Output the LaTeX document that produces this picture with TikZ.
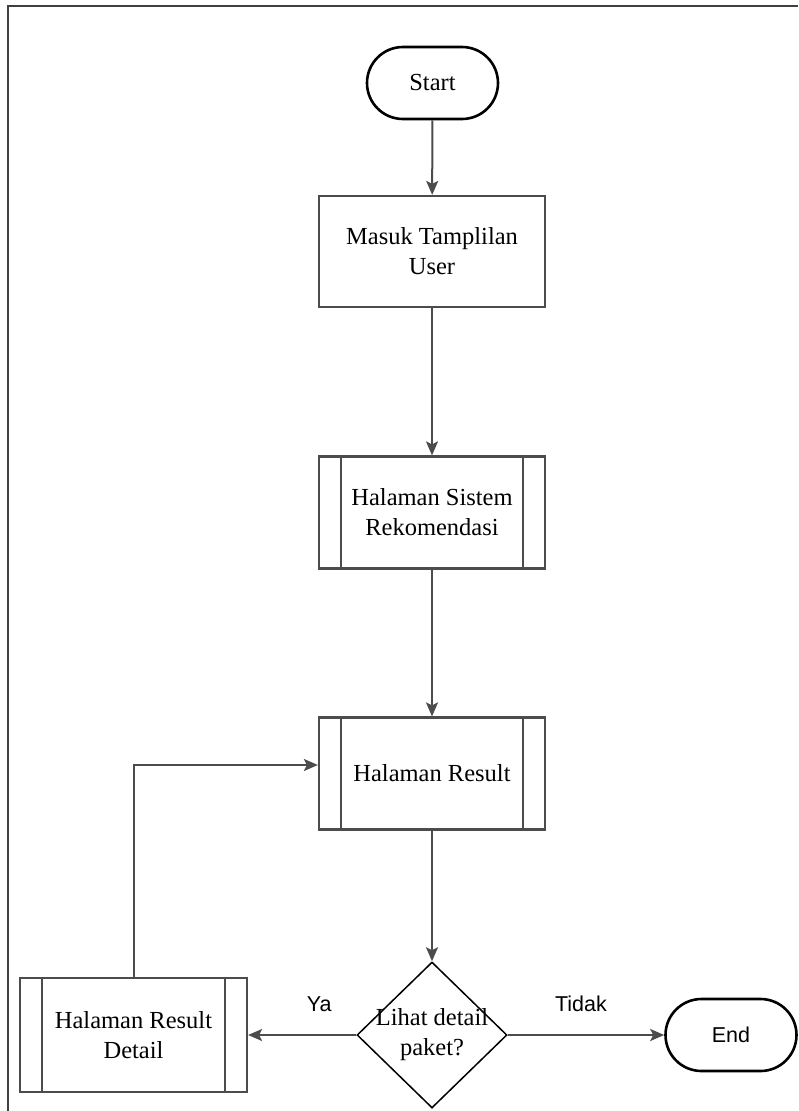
\documentclass[tikz,border=0pt]{standalone}
\usepackage{fontspec}
\setmainfont{Liberation Serif}
\setsansfont{Liberation Sans}
\usetikzlibrary{shapes.geometric,arrows.meta}
\tikzset{
  term/.style={draw=black, line width=2.6pt, rounded corners=36pt, minimum width=131pt, minimum height=72pt, inner sep=0pt},
  procbox/.style={draw=black!70, line width=2.2pt, minimum width=226pt, minimum height=111pt, align=center, inner sep=0pt, font=\fontsize{24.5}{30}\selectfont},
  subproc/.style={procbox, minimum height=112pt},
  decide/.style={draw=black, line width=1.5pt, diamond, aspect=1.0345, minimum width=150pt, minimum height=146pt, inner sep=-10pt, align=center, font=\fontsize{24.5}{30}\selectfont},
  flow/.style={draw=black!70, line width=2pt, -{Stealth[length=14pt,width=12pt,inset=3pt]}},
  lbl/.style={font=\sffamily\fontsize{21.5}{25}\selectfont, inner sep=0pt}
}
\newcommand{\sidebars}[1]{%
  \draw[black!70, line width=2.2pt] ([xshift=23pt]#1.north west) -- ([xshift=23pt]#1.south west);
  \draw[black!70, line width=2.2pt] ([xshift=-23pt]#1.north east) -- ([xshift=-23pt]#1.south east);}
\begin{document}
\begin{tikzpicture}[x=1pt,y=-1pt]
  \useasboundingbox (0,0) rectangle (798,1111);
  % frame edges
  \draw[black!75, line width=1.5pt] (8,1111) -- (8,6) -- (798,6);

  \node[term, font=\fontsize{24.5}{30}\selectfont] (start) at (432.5,83) {Start};
  \node[procbox] (masuk) at (432,251.5) {Masuk Tamplilan\\User};
  \node[subproc] (sistem) at (432,512.5) {Halaman Sistem\\Rekomendasi};
  \sidebars{sistem}
  \node[subproc] (result) at (432,773.5) {Halaman Result};
  \sidebars{result}
  \node[decide] (cek) at (432,1035) {Lihat detail\\paket?};
  \node[subproc, minimum width=227pt, minimum height=114pt] (detail) at (133.5,1035) {Halaman Result\\Detail};
  \sidebars{detail}
  \node[term, font=\sffamily\fontsize{21.5}{25}\selectfont] (finish) at (731,1035) {End};

  \coordinate (up) at (133.5,765);
  \coordinate (in) at (result.west |- up);

  \draw[flow] (start) -- (masuk);
  \draw[flow] (masuk) -- (sistem);
  \draw[flow] (sistem) -- (result);
  \draw[flow] (result) -- (cek);
  \draw[flow] (cek) -- node[lbl, above=22pt, xshift=17pt] (ya) {Ya} (detail);
  \draw[flow] (cek) -- node[lbl, above=22pt, xshift=-5pt] (tidak) {Tidak} (finish);
  \draw[flow] (detail.north) -- (up) -- (in);
\end{tikzpicture}
\end{document}
